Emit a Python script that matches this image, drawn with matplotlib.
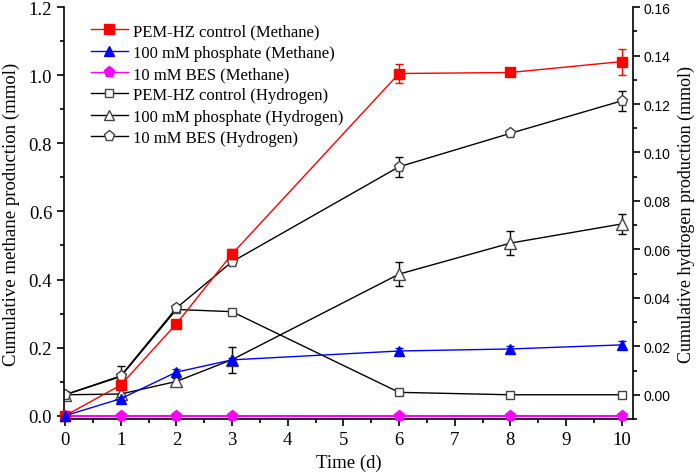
import matplotlib
matplotlib.use("Agg")
import matplotlib.pyplot as plt
from matplotlib.ticker import MultipleLocator
from matplotlib.lines import Line2D

days = [0, 1, 2, 3, 6, 8, 10]

ch4_control = [0.0, 0.09, 0.27, 0.475, 1.005, 1.008, 1.04]
ch4_control_err = [0.0, 0.012, 0.005, 0.015, 0.028, 0.005, 0.038]
ch4_phosphate = [0.0, 0.05, 0.128, 0.164, 0.19, 0.196, 0.208]
ch4_phosphate_err = [0.0, 0.006, 0.008, 0.005, 0.01, 0.01, 0.011]
ch4_bes = [0.0, 0.0, 0.0, 0.0, 0.0, 0.0, 0.0]

h2_control = [0.0, 0.0075, 0.0352, 0.0343, 0.001, 0.0, 0.0]
h2_control_err = [0.0, 0.0005, 0.0008, 0.0005, 0.0006, 0.0003, 0.0003]
h2_phosphate = [0.0, 0.0003, 0.0055, 0.0145, 0.0498, 0.0626, 0.0705]
h2_phosphate_err = [0.0, 0.0005, 0.0015, 0.0054, 0.0049, 0.0049, 0.004]
h2_bes = [0.0, 0.0078, 0.0358, 0.0549, 0.0941, 0.1079, 0.1213]
h2_bes_err = [0.0, 0.004, 0.0012, 0.0012, 0.0041, 0.0012, 0.0041]

labels = ["PEM-HZ control (Methane)", "100 mM phosphate (Methane)", "10 mM BES (Methane)",
          "PEM-HZ control (Hydrogen)", "100 mM phosphate (Hydrogen)", "10 mM BES (Hydrogen)"]

serif = ["Liberation Serif", "DejaVu Serif"]
sans = ["Liberation Sans", "DejaVu Sans"]

fig = plt.figure(figsize=(7.0, 4.77), dpi=100)
ax = fig.add_axes([0.0914, 0.1195, 0.8126, 0.8635])
ax2 = ax.twinx()

ax.set_xlim(-0.02, 10.2)
ax.set_ylim(-0.0097, 1.2)
ax2.set_ylim(-0.0100, 0.16)

# hydrogen (right axis)
ax2.errorbar(days, h2_control, yerr=h2_control_err, color="black", marker="s", mfc="white", mec="#444444", ms=6, capsize=3, lw=1, elinewidth=1, zorder=3)
ax2.errorbar(days, h2_phosphate, yerr=h2_phosphate_err, color="black", marker="^", mfc="white", mec="#444444", ms=8, capsize=3, lw=1, elinewidth=1, zorder=3)
ax2.errorbar(days, h2_bes, yerr=h2_bes_err, color="black", marker="p", mfc="white", mec="#444444", ms=8, capsize=3, lw=1, elinewidth=1, zorder=3)

# methane (left axis) drawn on top
ax.set_zorder(ax2.get_zorder() + 1)
ax.patch.set_visible(False)
ax.errorbar(days, ch4_control, yerr=ch4_control_err, color="red", marker="s", mfc="red", mec="red", ms=6.5, capsize=3, lw=1, elinewidth=1, zorder=4, clip_on=False)
ax.errorbar(days, ch4_phosphate, yerr=ch4_phosphate_err, color="blue", marker="^", mfc="blue", mec="blue", ms=7.5, capsize=3, lw=1, elinewidth=1, zorder=4, clip_on=False)
ax.plot(days, ch4_bes, color="magenta", marker="p", mfc="magenta", mec="magenta", ms=8, lw=1.5, zorder=4, clip_on=False)

# spines
for a in (ax, ax2):
    a.spines["top"].set_visible(False)
    for s in ("left", "right", "bottom"):
        a.spines[s].set_linewidth(1.2)
ax.spines["right"].set_visible(False)
ax2.spines["left"].set_visible(False)
ax2.spines["bottom"].set_visible(False)

ax.xaxis.set_major_locator(MultipleLocator(1))
ax.xaxis.set_minor_locator(MultipleLocator(0.5))
ax.yaxis.set_major_locator(MultipleLocator(0.2))
ax.yaxis.set_minor_locator(MultipleLocator(0.1))
ax2.yaxis.set_major_locator(MultipleLocator(0.02))
ax2.yaxis.set_minor_locator(MultipleLocator(0.01))

ax.tick_params(axis="both", which="major", direction="out", length=5, width=1.2, labelsize=13.5)
ax.tick_params(axis="both", which="minor", direction="out", length=3, width=1.2)
ax2.tick_params(axis="y", which="major", direction="out", length=5, width=1.2, labelsize=10, pad=3)
ax2.tick_params(axis="y", which="minor", direction="out", length=3, width=1.2)

ax.set_xticks(range(0, 11))
ax.set_xticklabels([str(i) for i in range(0, 11)], fontfamily=serif)
yt = [0.0, 0.2, 0.4, 0.6, 0.8, 1.0, 1.2]
ax.set_yticks(yt)
ax.set_yticklabels([f"{v:.1f}" for v in yt], fontfamily=serif)
yt2 = [0.0, 0.02, 0.04, 0.06, 0.08, 0.10, 0.12, 0.14, 0.16]
ax2.set_yticks(yt2)
ax2.set_yticklabels([f"{v:.2f}" for v in yt2], fontfamily=sans)

ax.set_xlabel("Time (d)", fontfamily=serif, fontsize=13.5, labelpad=4)
ax.set_ylabel("Cumulative methane production (mmol)", fontfamily=serif, fontsize=13.5, labelpad=6)
ax2.set_ylabel("Cumulative hydrogen production (mmol)", fontfamily=serif, fontsize=13, labelpad=5)

handles = [
    Line2D([], [], color="red", marker="s", mfc="red", mec="red", ms=6.5, lw=1),
    Line2D([], [], color="blue", marker="^", mfc="blue", mec="blue", ms=7.5, lw=1),
    Line2D([], [], color="magenta", marker="p", mfc="magenta", mec="magenta", ms=8, lw=1),
    Line2D([], [], color="black", marker="s", mfc="white", mec="#444444", ms=6, lw=1),
    Line2D([], [], color="black", marker="^", mfc="white", mec="#444444", ms=7.5, lw=1),
    Line2D([], [], color="black", marker="p", mfc="white", mec="#444444", ms=8, lw=1),
]
ax.legend(handles, labels, loc="upper left", bbox_to_anchor=(0.03, 0.985), frameon=False,
          prop={"family": serif, "size": 12}, handlelength=2.2, handletextpad=0.3,
          labelspacing=0.32, borderaxespad=0.2)

fig.savefig("out.png", dpi=100)
